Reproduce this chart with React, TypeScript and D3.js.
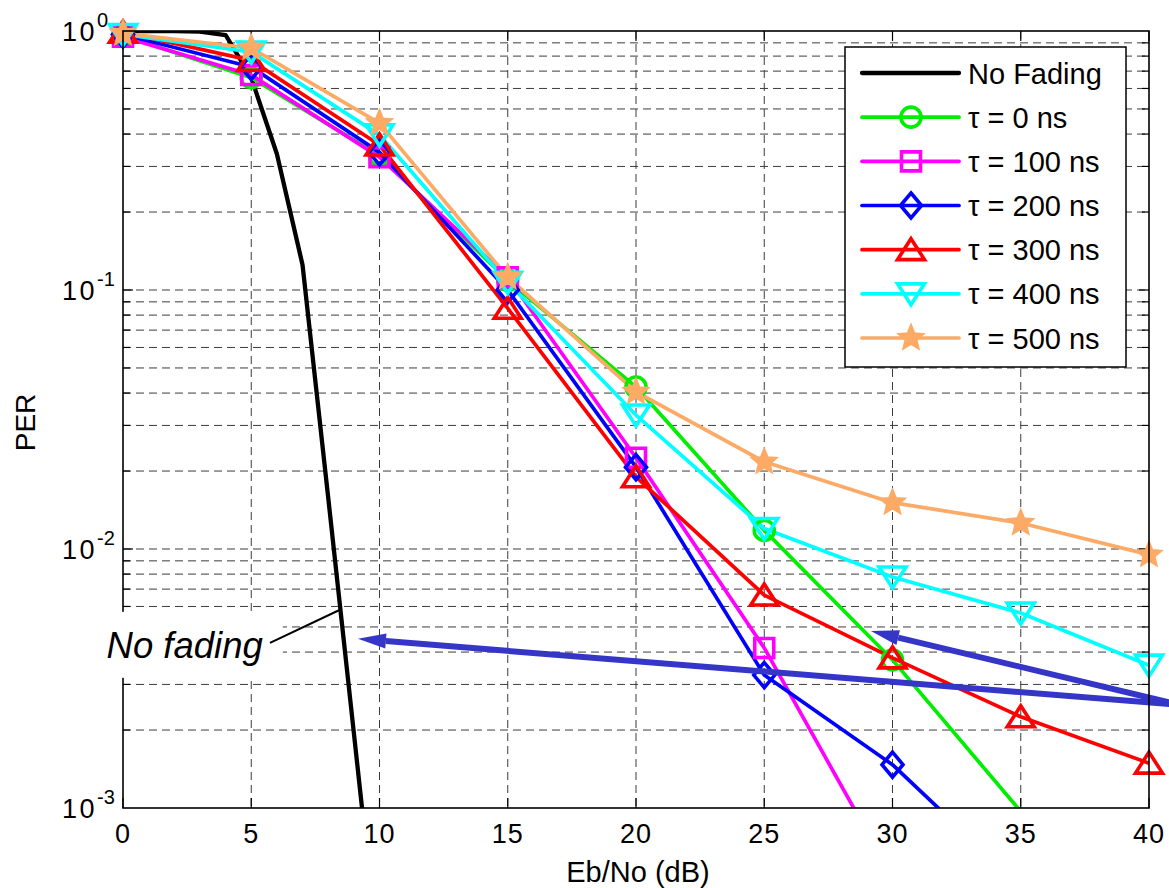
import React, { useEffect, useRef } from 'react';
import * as d3 from 'd3';

const W = 1169;
const H = 888;

// Eb/No grid of the fading curves (dB)
const ebNo = [0, 5, 10, 15, 20, 25, 30, 35, 40];

// reference curve without fading
const noFadingEbNo = [0, 1, 2, 3, 4, 5, 6, 7, 8, 9, 10];
const noFadingPer = [1, 1, 1, 0.995, 0.965, 0.66, 0.335, 0.125, 0.0158, 0.00195, 0.00024];

// PER per delay spread (null = not simulated)
const per0 = [0.96, 0.66, 0.33, 0.109, 0.0422, 0.0118, 0.00373, 0.00097, null];
const per100 = [0.95, 0.676, 0.326, 0.112, 0.0225, 0.00415, 0.00054, null, null];
const per200 = [0.97, 0.726, 0.34, 0.1, 0.0207, 0.00326, 0.00147, 0.0005, null];
const per300 = [0.99, 0.77, 0.363, 0.085, 0.019, 0.00664, 0.0038, 0.00225, 0.00149];
const per400 = [0.97, 0.83, 0.397, 0.107, 0.0329, 0.012, 0.0078, 0.00566, 0.00356];
const per500 = [0.98, 0.86, 0.441, 0.112, 0.0404, 0.0217, 0.0151, 0.0126, 0.0095];

const xTicks = [0, 5, 10, 15, 20, 25, 30, 35, 40];
const yDecades = [1, 0.1, 0.01, 0.001];
const yExponents = ['0', '-1', '-2', '-3'];

type Marker = 'none' | 'circle' | 'square' | 'diamond' | 'triUp' | 'triDown' | 'star';

interface Series {
  label: string;
  x: number[];
  y: (number | null)[];
  color: string;
  marker: Marker;
  width: number;
}

const series: Series[] = [
  { label: 'No Fading', x: noFadingEbNo, y: noFadingPer, color: '#000000', marker: 'none', width: 4.3 },
  { label: '\u03c4 = 0 ns', x: ebNo, y: per0, color: '#00ee00', marker: 'circle', width: 3.7 },
  { label: '\u03c4 = 100 ns', x: ebNo, y: per100, color: '#ff00ff', marker: 'square', width: 3.7 },
  { label: '\u03c4 = 200 ns', x: ebNo, y: per200, color: '#0000ff', marker: 'diamond', width: 3.7 },
  { label: '\u03c4 = 300 ns', x: ebNo, y: per300, color: '#ff0000', marker: 'triUp', width: 3.7 },
  { label: '\u03c4 = 400 ns', x: ebNo, y: per400, color: '#00ffff', marker: 'triDown', width: 3.7 },
  { label: '\u03c4 = 500 ns', x: ebNo, y: per500, color: '#fdaa66', marker: 'star', width: 3.7 },
];

// arrows in data coordinates: tail -> tip
const arrows = [
  { x1: 41.2, y1: 0.0025, x2: 9.16, y2: 0.0045 },
  { x1: 41.2, y1: 0.0025, x2: 29.16, y2: 0.00482 },
];

// "No fading" callout: leader from text towards the curve
const callout = { text: 'No fading', tx: 5.45, ty: 0.0038, lx1: 5.73, ly1: 0.00434, lx2: 8.42, ly2: 0.0058 };

const FONT = '"Liberation Sans", Arial, Helvetica, sans-serif';

const markerPath = (m: Marker): string => {
  switch (m) {
    case 'square':
      return 'M-9.5,-9.5H9.5V9.5H-9.5Z';
    case 'diamond':
      return 'M0,-12.5L10.5,0L0,12.5L-10.5,0Z';
    case 'triUp':
      return 'M0,-11L13.5,10L-13.5,10Z';
    case 'triDown':
      return 'M0,11L13.5,-10L-13.5,-10Z';
    case 'star': {
      const pts: string[] = [];
      for (let i = 0; i < 10; i++) {
        const r = i % 2 === 0 ? 13 : 5.8;
        const a = -Math.PI / 2 + (i * Math.PI) / 5;
        pts.push(`${(r * Math.cos(a)).toFixed(2)},${(r * Math.sin(a)).toFixed(2)}`);
      }
      return 'M' + pts.join('L') + 'Z';
    }
    default:
      return '';
  }
};

const drawMarker = (
  sel: d3.Selection<SVGGElement, unknown, null, undefined>,
  m: Marker,
  color: string,
  cx: number,
  cy: number
) => {
  if (m === 'none') return;
  if (m === 'circle') {
    sel.append('circle')
      .attr('cx', cx).attr('cy', cy).attr('r', 10)
      .attr('fill', 'none').attr('stroke', color).attr('stroke-width', 3.6);
    return;
  }
  const filled = m === 'star';
  sel.append('path')
    .attr('d', markerPath(m))
    .attr('transform', `translate(${cx},${cy})`)
    .attr('fill', filled ? color : 'none')
    .attr('stroke', color)
    .attr('stroke-width', filled ? 2 : 3.6)
    .attr('stroke-linejoin', 'miter');
};

const PERChart: React.FC = () => {
  const svgRef = useRef<SVGSVGElement>(null);

  useEffect(() => {
    if (!svgRef.current) return;
    const svg = d3.select(svgRef.current);
    svg.selectAll('*').remove();

    const left = 123, right = 1149, top = 31, bottom = 808;

    const x = d3.scaleLinear().domain([0, 40]).range([left, right]);
    const y = d3.scaleLog().domain([1e-3, 1]).range([bottom, top]);

    svg.append('rect').attr('width', W).attr('height', H).attr('fill', '#fff');

    const defs = svg.append('defs');
    defs.append('clipPath').attr('id', 'plot-clip')
      .append('rect')
      .attr('x', left).attr('y', top)
      .attr('width', right - left).attr('height', bottom - top);

    // Grid
    const minorVals: number[] = [];
    [0.001, 0.01, 0.1].forEach(d => {
      for (let k = 1; k <= 9; k++) {
        const v = d * k;
        if (v > 0.001 && v < 1) minorVals.push(v);
      }
    });

    const grid = svg.append('g')
      .attr('stroke', '#3c3c3c')
      .attr('stroke-width', 1)
      .attr('stroke-dasharray', '8,5');

    grid.selectAll('.gy')
      .data(minorVals)
      .enter().append('line')
      .attr('x1', left).attr('x2', right)
      .attr('y1', d => y(d)).attr('y2', d => y(d));

    grid.selectAll('.gx')
      .data(xTicks.filter(t => t > 0 && t < 40))
      .enter().append('line')
      .attr('y1', top).attr('y2', bottom)
      .attr('x1', d => x(d)).attr('x2', d => x(d));

    // Ticks
    const ticks = svg.append('g').attr('stroke', '#000').attr('stroke-width', 1.2);
    minorVals.forEach(v => {
      const len = yDecades.includes(v) ? 10 : 7;
      ticks.append('line').attr('x1', left).attr('x2', left + len).attr('y1', y(v)).attr('y2', y(v));
      ticks.append('line').attr('x1', right).attr('x2', right - len).attr('y1', y(v)).attr('y2', y(v));
    });
    xTicks.forEach(t => {
      ticks.append('line').attr('x1', x(t)).attr('x2', x(t)).attr('y1', bottom).attr('y2', bottom - 10);
      ticks.append('line').attr('x1', x(t)).attr('x2', x(t)).attr('y1', top).attr('y2', top + 10);
    });

    // Curves (lines clipped to the axes, markers only for in-range points)
    const plot = svg.append('g').attr('clip-path', 'url(#plot-clip)');
    series.forEach(s => {
      const pts = s.x.map((xv, i) => ({ x: xv, y: s.y[i] }));
      const line = d3.line<{ x: number; y: number | null }>()
        .defined(d => d.y !== null)
        .x(d => x(d.x))
        .y(d => y(d.y as number));
      plot.append('path')
        .datum(pts)
        .attr('fill', 'none')
        .attr('stroke', s.color)
        .attr('stroke-width', s.width)
        .attr('stroke-linejoin', 'round')
        .attr('d', line);
    });
    const marks = svg.append('g');
    series.forEach(s => {
      const mg = marks.append('g');
      s.x.forEach((xv, i) => {
        const v = s.y[i];
        if (v === null || v < 1e-3 || v > 1) return;
        drawMarker(mg, s.marker, s.color, x(xv), y(v));
      });
    });

    // Arrows
    const arrowColor = '#3535c8';
    arrows.forEach(a => {
      const x1 = x(a.x1), y1 = y(a.y1), x2 = x(a.x2), y2 = y(a.y2);
      const ang = Math.atan2(y2 - y1, x2 - x1);
      const headLen = 28, headHalf = 7.5;
      const bx = x2 - headLen * Math.cos(ang);
      const by = y2 - headLen * Math.sin(ang);
      svg.append('line')
        .attr('x1', x1).attr('y1', y1).attr('x2', bx).attr('y2', by)
        .attr('stroke', arrowColor).attr('stroke-width', 6);
      const px = -Math.sin(ang) * headHalf, py = Math.cos(ang) * headHalf;
      svg.append('path')
        .attr('d', `M${x2},${y2}L${bx + px},${by + py}L${bx - px},${by - py}Z`)
        .attr('fill', arrowColor);
    });

    // Axes box
    svg.append('rect')
      .attr('x', left).attr('y', top)
      .attr('width', right - left).attr('height', bottom - top)
      .attr('fill', 'none').attr('stroke', '#000').attr('stroke-width', 1.6);

    // Callout (white box hides grid and axis)
    const cg = svg.append('g');
    const cText = cg.append('text')
      .attr('x', x(callout.tx)).attr('y', y(callout.ty))
      .attr('text-anchor', 'end')
      .attr('font-family', FONT).attr('font-style', 'italic')
      .attr('font-size', 36.5)
      .attr('fill', '#000')
      .text(callout.text);
    const bb = (cText.node() as SVGTextElement).getBBox();
    cg.insert('rect', 'text')
      .attr('x', bb.x - 12).attr('y', bb.y - 13)
      .attr('width', bb.width + 32).attr('height', bb.height + 25)
      .attr('fill', '#fff');
    cg.append('line')
      .attr('x1', x(callout.lx1)).attr('y1', y(callout.ly1))
      .attr('x2', x(callout.lx2)).attr('y2', y(callout.ly2))
      .attr('stroke', '#000').attr('stroke-width', 2);

    // Tick labels
    const labels = svg.append('g').attr('font-family', FONT).attr('fill', '#000');
    xTicks.forEach(t => {
      labels.append('text')
        .attr('x', x(t)).attr('y', bottom + 35)
        .attr('text-anchor', 'middle')
        .attr('font-size', 27)
        .attr('letter-spacing', 1)
        .text(String(t));
    });
    yDecades.forEach((v, i) => {
      labels.append('text')
        .attr('x', 97).attr('y', y(v) + 10)
        .attr('text-anchor', 'end')
        .attr('font-size', 27)
        .attr('letter-spacing', 2.5)
        .text('10');
      labels.append('text')
        .attr('x', 97).attr('y', y(v) - 4)
        .attr('text-anchor', 'start')
        .attr('font-size', 20)
        .text(yExponents[i]);
    });

    // Axis titles
    labels.append('text')
      .attr('x', (left + right) / 2 + 2).attr('y', 882)
      .attr('text-anchor', 'middle')
      .attr('font-size', 29)
      .text('Eb/No (dB)');
    labels.append('text')
      .attr('transform', `translate(35,${(top + bottom) / 2 + 3}) rotate(-90)`)
      .attr('text-anchor', 'middle')
      .attr('font-size', 28)
      .text('PER');

    // Legend
    const lg = svg.append('g');
    lg.append('rect')
      .attr('x', 845).attr('y', 47).attr('width', 281).attr('height', 320)
      .attr('fill', '#fff').attr('stroke', '#000').attr('stroke-width', 1.5);
    const rowY = d3.scaleLinear().domain([0, series.length - 1]).range([73, 338]);
    series.forEach((s, i) => {
      const cy = rowY(i);
      lg.append('line')
        .attr('x1', 862).attr('x2', 959).attr('y1', cy).attr('y2', cy)
        .attr('stroke', s.color).attr('stroke-width', s.width)
        .attr('stroke-linecap', 'round');
      drawMarker(lg, s.marker, s.color, 911, cy);
      lg.append('text')
        .attr('x', 968).attr('y', cy + 10.5)
        .attr('font-family', FONT).attr('font-size', 29)
        .attr('fill', '#000')
        .text(s.label);
    });
  }, []);

  return (
    <svg
      ref={svgRef}
      width={W}
      height={H}
      style={{ position: 'absolute', left: 0, top: 0, display: 'block' }}
    />
  );
};

export default function App() {
  return <PERChart />;
}
